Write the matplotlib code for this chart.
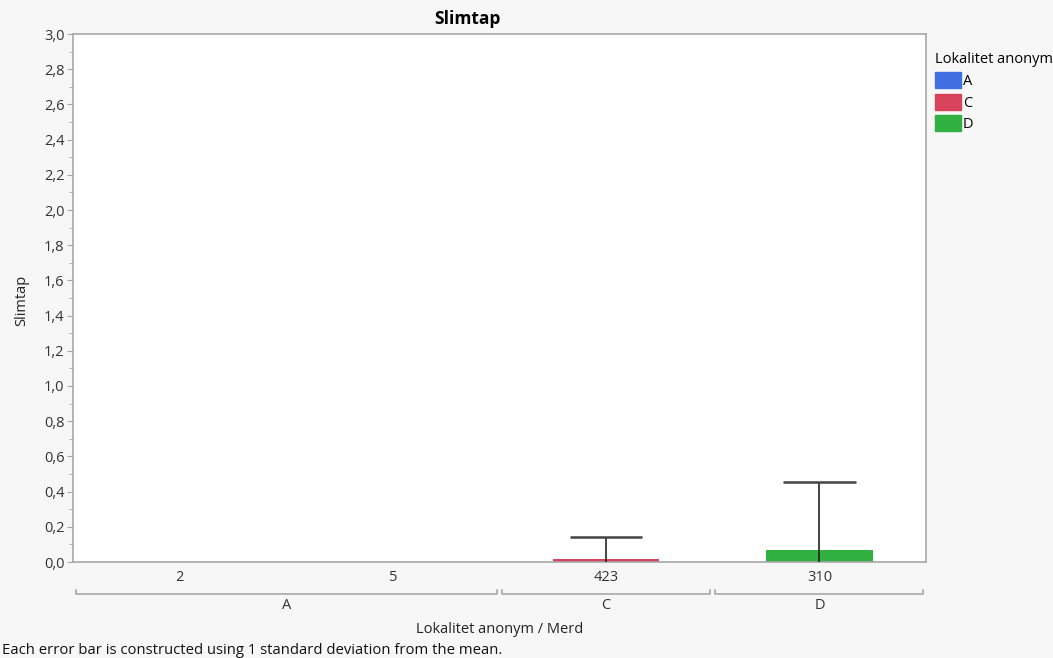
import matplotlib
matplotlib.use("Agg")
import matplotlib.pyplot as plt
import matplotlib.patches as mpatches
import matplotlib.transforms as mtransforms
from matplotlib.ticker import MultipleLocator, FuncFormatter

# data
merd = ["2", "5", "423", "310"]
lokalitet = ["A", "A", "C", "D"]
means = [0.0, 0.0, 0.015, 0.068]
sds = [0.0, 0.0, 0.127, 0.384]
groups = ["A", "C", "D"]
group_spans = [(-0.5, 1.5), (1.5, 2.5), (2.5, 3.5)]
colors = {"A": "#3f6fe0", "C": "#d6435b", "D": "#30b041"}

plt.rcParams['font.family'] = ['Open Sans', 'DejaVu Sans']
bg = "#f7f7f7"
grey = "#a8a8a8"
fs = 10.5

fig = plt.figure(figsize=(10.53, 6.58), dpi=100, facecolor=bg)
ax = fig.add_axes([73/1053, 1 - 562/658, (926-73)/1053, (562-34)/658])
ax.set_facecolor("white")

x = list(range(len(merd)))
bar_cols = [colors[l] for l in lokalitet]
ax.bar(x, means, width=0.5, color=bar_cols, zorder=2)

# one-sided error bars (only where there is a spread)
ex = [xi for xi, s in zip(x, sds) if s > 0]
etop = [m + s for m, s in zip(means, sds) if s > 0]
ax.vlines(ex, 0, etop, color="#222222", lw=1.2, zorder=3)
ax.hlines(etop, [xi - 0.17 for xi in ex], [xi + 0.17 for xi in ex],
          color="#444444", lw=1.8, zorder=3)

ax.set_xlim(-0.5, 3.5)
ax.set_ylim(0, 3.0)
ax.yaxis.set_major_locator(MultipleLocator(0.2))
ax.yaxis.set_minor_locator(MultipleLocator(0.1))
ax.yaxis.set_major_formatter(FuncFormatter(lambda v, p: f"{v:.1f}".replace(".", ",")))
ax.set_xticks(x)
ax.set_xticklabels(merd)
ax.tick_params(axis="x", length=0, pad=6, labelsize=fs, labelcolor="#333333")
ax.tick_params(axis="y", which="major", length=4, color=grey, labelsize=fs, labelcolor="#333333", pad=2)
ax.tick_params(axis="y", which="minor", length=3, color=grey)
for s in ax.spines.values():
    s.set_color(grey)
    s.set_linewidth(1.2)

# group brackets under the x axis
trans = mtransforms.blended_transform_factory(ax.transData, ax.transAxes)
yb = -0.061
for g, (a, b) in zip(groups, group_spans):
    ax.plot([a + 0.012, a + 0.012, b - 0.012, b - 0.012], [yb + 0.008, yb, yb, yb + 0.008],
            color=grey, lw=1.2, transform=trans, clip_on=False)
    ax.text((a + b) / 2, yb - 0.008, g, transform=trans, ha="center", va="top",
            fontsize=fs, color="#333333")

ax.text(0.5, -0.114, "Lokalitet anonym / Merd", transform=ax.transAxes, ha="center",
        va="top", fontsize=fs, color="#222222")
fig.text(0.002, 1 - 650/658, "Each error bar is constructed using 1 standard deviation from the mean.",
         ha="left", va="center", fontsize=10.75, color="#111111")

fig.text(467/1053, 1 - 19/658, "Slimtap", fontsize=12.5, fontweight="bold",
         ha="center", va="center")
fig.text(22/1053, 1 - 300/658, "Slimtap", fontsize=fs, color="#222222",
         rotation=90, ha="center", va="center")

handles = [mpatches.Patch(color=colors[g], label=g) for g in groups]
leg = fig.legend(handles=handles, title="Lokalitet anonym", loc="upper left",
                 bbox_to_anchor=(925/1053, 1 - 42/658), frameon=False, fontsize=fs,
                 title_fontsize=fs, handlelength=1.8, handleheight=1.3,
                 handletextpad=0.1, labelspacing=0.33, borderpad=0.2)
leg._legend_box.align = "left"

fig.savefig("out.png", dpi=100, facecolor=bg)
